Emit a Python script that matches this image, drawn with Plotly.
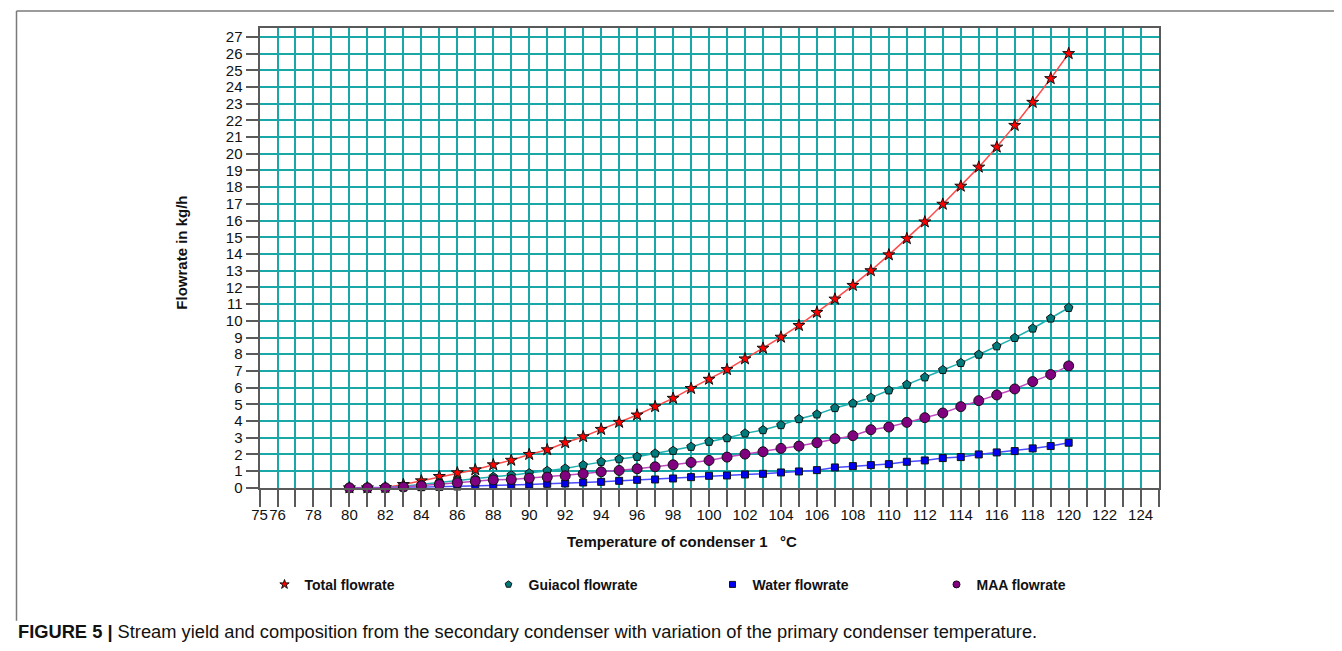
import plotly.graph_objects as go

temperature = [80, 81, 82, 83, 84, 85, 86, 87, 88, 89, 90, 91, 92, 93, 94, 95, 96, 97, 98, 99, 100,
               101, 102, 103, 104, 105, 106, 107, 108, 109, 110, 111, 112, 113, 114, 115, 116, 117, 118, 119, 120]

total_flow = [0, 0, 0.02, 0.2, 0.42, 0.68, 0.9, 1.08, 1.38, 1.65, 2.0, 2.28, 2.7, 3.06, 3.5, 3.92, 4.36, 4.86, 5.36, 5.95, 6.5,
              7.08, 7.72, 8.36, 9.02, 9.72, 10.5, 11.3, 12.12, 13.0, 13.95, 14.92, 15.92, 16.98, 18.06, 19.2, 20.4, 21.7, 23.08, 24.5, 26.0]
guiacol_flow = [0, 0, 0.01, 0.1, 0.22, 0.32, 0.44, 0.55, 0.66, 0.76, 0.88, 1.02, 1.16, 1.36, 1.56, 1.72, 1.86, 2.06, 2.22, 2.46, 2.76,
                2.98, 3.26, 3.46, 3.76, 4.12, 4.4, 4.78, 5.06, 5.4, 5.84, 6.18, 6.62, 7.06, 7.48, 7.98, 8.48, 8.98, 9.54, 10.14, 10.78]
water_flow = [0, 0, 0, 0.02, 0.04, 0.06, 0.08, 0.11, 0.16, 0.18, 0.2, 0.24, 0.26, 0.32, 0.36, 0.42, 0.48, 0.5, 0.56, 0.64, 0.72,
              0.74, 0.8, 0.84, 0.92, 0.98, 1.06, 1.22, 1.3, 1.36, 1.42, 1.56, 1.64, 1.78, 1.84, 2.0, 2.12, 2.2, 2.36, 2.5, 2.7]
maa_flow = [0, 0, 0, 0.05, 0.12, 0.2, 0.3, 0.4, 0.48, 0.5, 0.58, 0.64, 0.72, 0.84, 0.96, 1.04, 1.14, 1.26, 1.38, 1.52, 1.64,
            1.84, 2.02, 2.16, 2.36, 2.5, 2.7, 2.94, 3.12, 3.48, 3.64, 3.92, 4.2, 4.48, 4.86, 5.22, 5.56, 5.92, 6.36, 6.78, 7.3]

series_names = ["Total flowrate", "Guiacol flowrate", "Water flowrate", "MAA flowrate"]

x_tick_vals = list(range(75, 126))
x_tick_text = ["75", "76", "", "78", "", "80", "", "82", "", "84", "", "86", "", "88", "", "90", "", "92", "", "94", "",
               "96", "", "98", "", "100", "", "102", "", "104", "", "106", "", "108", "", "110", "", "112", "", "114", "",
               "116", "", "118", "", "120", "", "122", "", "124", ""]
y_tick_vals = list(range(0, 28))

W, H = 1326, 643


def fx(t):
    # figure-pixel x for a target screen x
    return max(0.5, 245 + 1.00333 * (t - 259))


def fy(t):
    # figure-pixel y (from top) for a target screen y
    return (t - 7) / 0.9879


def px(t):
    return fx(t) / W


def py(t):
    return (H - fy(t)) / H


L, R, T, B = 259, 1160.5, 27.5, 487

styles = [
    dict(line="#ff4a4a", marker="#ff0000", symbol="star", size=9, lsize=7),
    dict(line="#1fb0b0", marker="#007a7a", symbol="pentagon", size=9, lsize=7),
    dict(line="#4a4aff", marker="#0000f0", symbol="square", size=7, lsize=6),
    dict(line="#c048c0", marker="#800080", symbol="circle", size=10, lsize=7),
]
values = [total_flow, guiacol_flow, water_flow, maa_flow]

fig = go.Figure()
for name, vals, st in zip(series_names, values, styles):
    fig.add_trace(go.Scatter(
        x=temperature, y=vals, mode="lines+markers", name=name, showlegend=False,
        line=dict(color=st["line"], width=1.5),
        marker=dict(symbol=st["symbol"], size=st["size"], color=st["marker"],
                    line=dict(color="#111111", width=1)),
        cliponaxis=False,
    ))
for name, st in zip(series_names, styles):
    fig.add_trace(go.Scatter(
        x=[None], y=[None], mode="markers", name=name, showlegend=True,
        marker=dict(symbol=st["symbol"], size=st["lsize"], color=st["marker"],
                    line=dict(color="#111111", width=1)),
    ))

grid_color = "#1aa7a7"
axis_color = "#5a5a5a"
tick_font = dict(family="Liberation Sans Narrow, Arial Narrow, sans-serif", size=15, color="#111111")

fig.update_layout(
    width=W, height=H,
    margin=dict(l=0, r=0, t=0, b=0),
    paper_bgcolor="white", plot_bgcolor="white",
    showlegend=True,
    legend=dict(orientation="h", x=px(264), xanchor="left", y=py(584), yanchor="middle",
                entrywidth=179, entrywidthmode="pixels",
                font=dict(family="Liberation Sans, Arial, sans-serif", size=14, color="#111111", weight="bold"),
                bgcolor="rgba(0,0,0,0)", borderwidth=0, traceorder="normal"),
    xaxis=dict(domain=[px(L), px(R)], range=[75, 125], tickmode="array", tickvals=x_tick_vals,
               ticktext=x_tick_text, ticks="outside", ticklen=17, tickwidth=2, tickcolor=axis_color,
               ticklabelstandoff=-5,
               showgrid=True, gridcolor=grid_color, gridwidth=2, zeroline=False,
               showline=True, linecolor=axis_color, linewidth=2, mirror=True,
               tickfont=tick_font, tickangle=0),
    yaxis=dict(domain=[py(B), py(T)], range=[0, 27.5], tickmode="array", tickvals=y_tick_vals,
               ticks="outside", ticklen=12, tickwidth=2, tickcolor=axis_color,
               showgrid=True, gridcolor=grid_color, gridwidth=2, zeroline=False,
               showline=True, linecolor=axis_color, linewidth=2, mirror=True,
               tickfont=tick_font),
)

title_font = dict(family="Liberation Sans, Arial, sans-serif", size=15, color="#111111", weight="bold")
fig.add_annotation(text="Flowrate in kg/h", x=px(181), y=py(252), xref="paper", yref="paper",
                   textangle=-90, showarrow=False, font=title_font, xanchor="center", yanchor="middle")
fig.add_annotation(text="Temperature of condenser 1   \u00b0C", x=px(683), y=py(541), xref="paper", yref="paper",
                   showarrow=False, font=title_font, xanchor="center", yanchor="middle")

fig.add_annotation(text="<b>FIGURE 5 |</b> Stream yield and composition from the secondary condenser with variation of the primary condenser temperature.",
                   x=px(14), y=py(631), xref="paper", yref="paper", showarrow=False,
                   xanchor="left", yanchor="middle",
                   font=dict(family="Liberation Sans, Arial, sans-serif", size=18.3, color="#111111"))

frame_color = "#7a7a7a"
fig.add_shape(type="line", xref="paper", yref="paper", x0=px(9), x1=1.0, y0=py(10), y1=py(10),
              line=dict(color=frame_color, width=1.5))
fig.add_shape(type="line", xref="paper", yref="paper", x0=px(9), x1=px(9), y0=py(10), y1=py(620),
              line=dict(color=frame_color, width=1.5))

fig.write_html("out.html")
